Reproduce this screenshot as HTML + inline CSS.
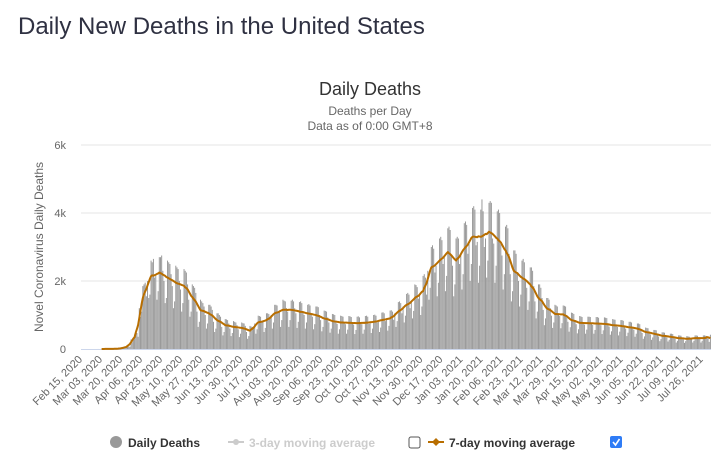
<!DOCTYPE html>
<html><head><meta charset="utf-8"><style>
body{margin:0;background:#fff;width:725px;height:461px;overflow:hidden;font-family:"Liberation Sans",sans-serif}
svg text{font-family:"Liberation Sans",sans-serif}
</style></head><body>
<svg width="725" height="461">
<text x="18" y="34" font-size="24" fill="#2f3142">Daily New Deaths in the United States</text>
<text x="370" y="95" font-size="18" fill="#333" text-anchor="middle">Daily Deaths</text>
<text x="370" y="115" font-size="12" fill="#666" text-anchor="middle">Deaths per Day</text>
<text x="370" y="130" font-size="12" fill="#666" text-anchor="middle">Data as of 0:00 GMT+8</text>
<text transform="translate(43,247) rotate(-90)" font-size="12" fill="#666" text-anchor="middle">Novel Coronavirus Daily Deaths</text>
<g id="grid"></g><g id="bars"></g><g id="line"></g><g id="xlabels"></g>
<g>
<g><circle cx="116" cy="442" r="6" fill="#999"/><text x="128" y="447" font-size="12" font-weight="bold" fill="#333">Daily Deaths</text></g>
<g><line x1="228" y1="442" x2="244" y2="442" stroke="#ccc" stroke-width="2"/><circle cx="236" cy="442" r="3" fill="#ccc"/><text x="249" y="447" font-size="12" font-weight="bold" fill="#ccc">3-day moving average</text></g>
<rect x="409" y="437" width="11" height="11" rx="2" fill="#fff" stroke="#555"/>
<g><line x1="428" y1="442" x2="444" y2="442" stroke="#b86e00" stroke-width="2"/><path d="M436 438 L440 442 L436 446 L432 442Z" fill="#b86e00"/><text x="449" y="447" font-size="12" font-weight="bold" fill="#333">7-day moving average</text></g>
<g><rect x="610" y="436" width="12" height="12" rx="2" fill="#2f7cf6"/><path d="M613 442 L615.5 445 L619.5 439" stroke="#fff" stroke-width="1.6" fill="none"/></g>
</g>
</svg>
<script>
const yTicks=[0,2000,4000,6000];
const yTickLabels=["0","2k","4k","6k"];
const startDate=[2020,2,15];
const daily=[
0,0,0,0,0,0,0, 0,0,0,0,0,0,0, 1,0,1,1,2,1,2, 3,2,4,2,4,3,5, 8,6,9,12,14,10,11,
45,35,50,70,80,75,65, 280,200,270,420,450,470,360, 1200,950,1100,1850,1900,1950,1550,
2000,1500,1600,2600,2550,2650,2100, 2150,1450,1700,2700,2700,2750,2300, 2000,1350,1500,2600,2550,2500,2200,
1850,1200,1400,2450,2400,2350,2000, 1750,1100,1350,2350,2300,2250,1900, 1450,950,1100,1900,1850,1800,1650,
1100,650,800,1450,1400,1350,1250, 1000,600,750,1300,1300,1250,1150, 800,500,600,1050,1050,1000,950,
650,400,500,880,870,850,750, 600,380,470,820,800,780,700, 580,350,450,780,760,750,680,
500,300,380,680,660,650,600, 750,450,580,980,970,950,800, 800,500,620,1050,1050,1030,900,
1000,600,780,1300,1300,1280,1100, 1100,650,850,1450,1420,1400,1200, 1100,650,850,1420,1450,1400,1200,
1050,620,800,1380,1400,1350,1100, 1000,600,780,1300,1320,1280,1050, 950,580,730,1250,1250,1230,1000,
850,520,650,1130,1120,1100,930, 780,480,600,1030,1020,1000,830, 740,450,580,980,970,950,790,
730,450,570,970,960,940,770, 720,440,560,950,960,930,760, 730,450,570,970,980,950,740,
760,470,600,1000,1010,980,780, 800,500,630,1070,1080,1050,820, 850,540,680,1130,1140,1100,860,
1050,650,820,1380,1400,1350,1050, 1250,780,980,1620,1650,1600,1200, 1400,900,1120,1900,1880,1820,1480,
1600,1000,1250,2150,2200,2100,1600, 2300,1450,1800,3000,3050,2950,2250, 2450,1550,1950,3250,3300,3200,2500,
2700,1700,2150,3550,3600,3500,2750, 2450,1550,1900,3250,3300,3250,2500, 2800,1750,2200,3700,3750,3650,2800,
3100,2000,2500,4150,4200,4100,3050, 3150,1950,2450,4100,4400,4050,3000, 3250,2100,2600,4300,4350,4300,3250,
3100,1950,2450,4050,4100,4000,3100, 2750,1750,2200,3600,3650,3550,2800, 2200,1400,1700,2900,2900,2800,2200,
2000,1250,1600,2600,2650,2550,2050, 1800,1150,1400,2400,2400,2300,1850, 1400,900,1100,1900,1900,1800,1500,
1150,700,900,1500,1500,1450,1200, 980,620,780,1300,1280,1250,1000, 970,610,760,1280,1270,1250,1000,
800,510,640,1070,1060,1030,840, 730,460,580,970,960,940,750, 720,450,570,950,950,940,740,
710,450,560,940,940,920,730, 700,440,550,930,920,910,730, 660,420,520,880,870,860,690,
650,400,510,850,850,830,670, 600,380,480,800,800,780,640, 570,360,450,750,750,730,590,
470,300,370,630,620,610,500, 430,270,340,560,560,550,440, 370,230,290,490,490,480,380,
340,220,270,450,450,440,350, 300,190,240,400,400,390,320, 280,180,230,380,370,360,300,
300,190,240,400,400,390,320, 300,190,240,400,400,390,320, 320,210,420];
const labelEvery=17;
const NS="http://www.w3.org/2000/svg";
const X0=81,X1=711,Y0=349,Y1=145,YMAX=6000;
const n=daily.length, step=(X1-X0)/n;
const xs=i=>X0+i*step, ys=v=>Y0-(v/YMAX)*(Y0-Y1);
function mk(t,a,p){const e=document.createElementNS(NS,t);for(const k in a)e.setAttribute(k,a[k]);p.appendChild(e);return e;}
const grid=document.getElementById('grid');
yTicks.forEach((v,i)=>{
 if(i>0){const g=mk('line',{x1:X0,x2:X1,y1:ys(v),y2:ys(v),stroke:'#e6e6e6'},grid);
 
 }
 const t=mk('text',{x:66,y:ys(v)+4,'font-size':11,fill:'#666','text-anchor':'end'},grid);
 t.textContent=yTickLabels[i];
 
 
});
const ax=mk('line',{x1:X0,x2:X1,y1:Y0+0.5,y2:Y0+0.5,stroke:'#ccd6eb'},grid);


const bars=document.getElementById('bars');
daily.forEach((v,i)=>{if(v<=0)return;
 const r=mk('rect',{x:xs(i)+step*0.08,y:ys(v),width:step*0.84,height:Y0-ys(v),fill:'#999'},bars);
 
 
});
const avg=daily.map((v,i)=>{let s=0,c=0;for(let k=i-3;k<=i+3;k++){if(k>=0&&k<n){s+=daily[k];c++;}}return s/c;});
let d='';for(let i=17;i<n;i++){d+=(i==17?'M':'L')+(xs(i)+step/2).toFixed(2)+' '+ys(avg[i]).toFixed(2);}
const p=mk('path',{d:d,fill:'none',stroke:'#b86e00','stroke-width':2,'stroke-linejoin':'round'},document.getElementById('line'));


const mon=["Jan","Feb","Mar","Apr","May","Jun","Jul","Aug","Sep","Oct","Nov","Dec"];
const xl=document.getElementById('xlabels');
for(let i=0;i<n;i+=labelEvery){
 const dt=new Date(Date.UTC(startDate[0],startDate[1]-1,startDate[2]+i));
 const s=mon[dt.getUTCMonth()]+' '+String(dt.getUTCDate()).padStart(2,'0')+', '+dt.getUTCFullYear();
 const x=xs(i)+2;
 const t=mk('text',{transform:`translate(${x},360) rotate(-45)`,'font-size':11,fill:'#666','text-anchor':'end'},xl);
 t.textContent=s;
 
 
}
</script>
</body></html>
